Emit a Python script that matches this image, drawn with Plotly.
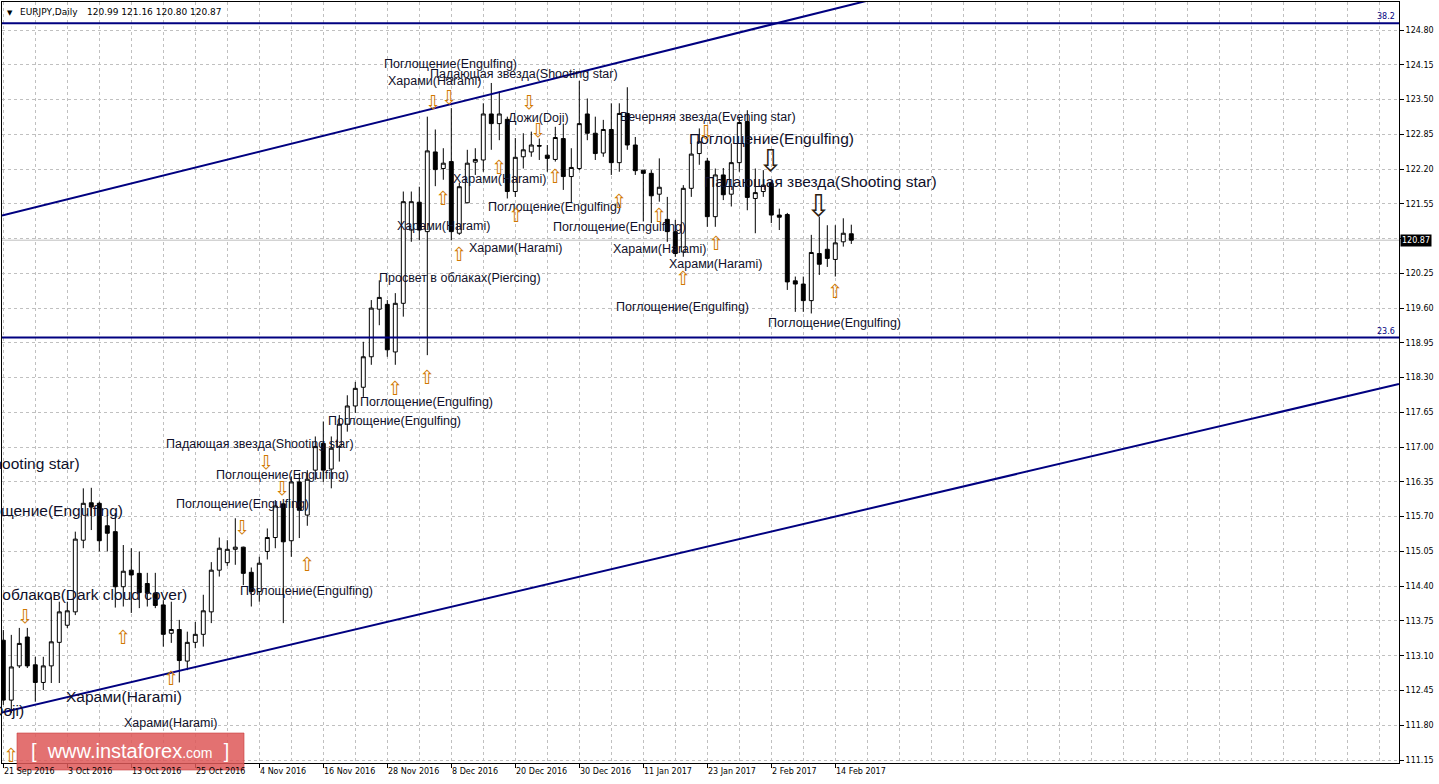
import plotly.graph_objects as go

# ---------------- data ----------------
bar_index = list(range(107))
open_ = [113.39, 112.27, 112.91, 113.45, 112.93, 112.60, 112.91, 113.35, 113.67, 113.92,
         115.26, 115.96, 115.95, 115.53, 115.42, 114.39, 114.70, 114.64, 114.45, 114.27,
         114.05, 113.52, 113.59, 113.00, 113.35, 113.50, 113.92, 114.70, 114.84, 115.09,
         115.13, 114.66, 114.30, 115.05, 115.31, 115.94, 115.25, 116.35, 115.73, 116.57,
         117.07, 116.59, 117.01, 117.43, 117.77, 118.12, 118.69, 119.58, 119.67, 118.78,
         119.69, 121.06, 121.58, 121.03, 122.52, 122.21, 122.34, 121.00, 121.57, 122.33,
         122.37, 123.23, 123.05, 123.13, 121.78, 122.43, 122.52, 122.64, 122.46, 122.38,
         122.77, 122.06, 122.21, 123.23, 122.87, 122.50, 122.94, 122.32, 123.24, 122.65,
         122.18, 122.12, 121.73, 121.26, 121.03, 120.65, 121.84, 122.49, 122.35, 121.31,
         122.09, 121.73, 122.32, 123.09, 121.65, 121.78, 121.93, 121.34, 121.35, 120.11,
         120.05, 119.74, 120.62, 120.70, 120.51, 120.84, 120.99]
high = [113.58, 113.49, 113.62, 113.62, 113.08, 113.08, 114.20, 114.11, 114.11, 115.42,
        116.23, 116.24, 115.98, 115.73, 115.77, 115.17, 115.11, 115.05, 114.65, 114.65,
        114.14, 114.11, 113.77, 113.55, 113.73, 114.24, 114.85, 115.31, 115.26, 115.67,
        115.14, 114.75, 114.95, 115.48, 116.01, 115.96, 116.45, 116.52, 116.57, 117.20,
        117.48, 117.20, 117.60, 117.97, 118.22, 118.97, 119.75, 120.12, 119.75, 119.88,
        121.78, 121.78, 121.87, 123.18, 122.94, 122.59, 123.34, 121.94, 122.56, 122.59,
        123.43, 123.81, 123.65, 123.18, 122.78, 122.87, 122.90, 122.77, 122.65, 122.99,
        123.05, 122.59, 123.85, 123.52, 123.18, 123.12, 123.43, 123.43, 123.73, 122.80,
        122.18, 122.18, 122.40, 121.68, 121.25, 121.90, 122.68, 122.96, 122.41, 122.21,
        122.22, 122.68, 123.15, 123.30, 122.21, 122.18, 121.99, 121.46, 121.38, 120.19,
        120.19, 120.97, 121.31, 121.15, 121.15, 121.28, 121.16]
low = [112.18, 112.03, 112.87, 112.87, 112.24, 112.46, 112.59, 112.59, 113.62, 113.86,
       115.11, 115.45, 115.05, 115.05, 114.00, 114.02, 113.90, 113.99, 114.02, 113.99,
       113.27, 113.34, 112.60, 112.83, 113.24, 113.27, 113.71, 114.58, 114.78, 114.80,
       114.42, 114.02, 114.11, 114.90, 115.11, 113.71, 114.95, 115.30, 115.53, 116.39,
       116.35, 116.23, 116.73, 117.29, 117.64, 117.94, 118.54, 119.28, 118.69, 118.54,
       119.44, 120.84, 120.87, 118.72, 121.88, 122.00, 120.87, 120.97, 121.56, 122.09,
       122.15, 122.56, 122.74, 121.65, 121.68, 122.21, 122.43, 122.37, 122.15, 122.34,
       121.81, 121.56, 122.18, 122.74, 122.37, 122.43, 122.09, 122.15, 122.56, 122.09,
       121.22, 121.19, 121.59, 120.84, 120.56, 120.56, 121.68, 122.28, 121.12, 121.12,
       121.62, 121.50, 122.15, 121.43, 121.00, 121.68, 121.19, 121.06, 119.94, 119.53,
       119.53, 119.50, 120.22, 120.37, 120.19, 120.75, 120.80]
close = [112.27, 112.89, 113.33, 112.91, 112.60, 112.91, 113.36, 113.92, 113.94, 115.28,
         115.95, 115.88, 115.25, 115.39, 114.39, 114.68, 114.61, 114.28, 114.27, 114.04,
         113.50, 113.59, 113.01, 113.35, 113.50, 113.94, 114.70, 115.11, 115.09, 115.13,
         114.64, 114.30, 114.83, 115.31, 115.90, 115.23, 116.35, 115.82, 116.40, 117.01,
         116.57, 116.98, 117.43, 117.77, 118.10, 118.69, 119.60, 119.80, 118.82, 119.69,
         121.59, 121.59, 121.06, 122.54, 122.19, 122.31, 121.03, 121.87, 122.31, 122.38,
         123.23, 123.05, 123.23, 121.78, 122.42, 122.56, 122.65, 122.63, 122.40, 122.79,
         122.06, 122.23, 123.05, 122.87, 122.49, 122.94, 122.32, 123.24, 122.65, 122.17,
         122.12, 121.70, 121.86, 121.03, 120.62, 121.84, 122.48, 122.71, 121.31, 122.09,
         121.72, 122.32, 123.07, 121.67, 121.76, 121.90, 121.34, 121.30, 120.09, 120.05,
         119.74, 120.64, 120.42, 120.53, 120.82, 121.00, 120.87]

date_labels = ["21 Sep 2016", "3 Oct 2016", "13 Oct 2016", "25 Oct 2016", "4 Nov 2016",
               "16 Nov 2016", "28 Nov 2016", "8 Dec 2016", "20 Dec 2016", "30 Dec 2016",
               "11 Jan 2017", "23 Jan 2017", "2 Feb 2017", "14 Feb 2017"]
date_label_bars = [0, 8, 16, 24, 32, 40, 48, 56, 64, 72, 80, 88, 96, 104]

price_ticks = [111.15, 111.80, 112.45, 113.10, 113.75, 114.40, 115.05, 115.70, 116.35,
               117.00, 117.65, 118.30, 118.95, 119.60, 120.25, 120.90, 121.55, 122.20,
               122.85, 123.50, 124.15, 124.80]
price_tick_text = ["111.15", "111.80", "112.45", "113.10", "113.75", "114.40", "115.05",
                   "115.70", "116.35", "117.00", "117.65", "118.30", "118.95", "119.60",
                   "120.25", "", "121.55", "122.20", "122.85", "123.50", "124.15", "124.80"]

last_price = 120.87
level_prices = [124.925, 119.05]
level_names = ["38.2", "23.6"]

upper_trend_x = [-0.16, 112.09]
upper_trend_y = [121.33, 125.50]
lower_trend_x = [-0.41, 174.46]
lower_trend_y = [112.03, 118.18]

# pattern labels: text, bar, price, font size, anchor
pattern_labels = [
    ("Падающая звезда(Shooting star)", 9.84, 116.70, 15.5, "right"),
    ("Поглощение(Engulfing)", 15.21, 115.82, 15.5, "right"),
    ("Завеса из темных облаков(Dark cloud cover)", 23.21, 114.25, 15.5, "right"),
    ("Дожи(Doji)", 2.84, 112.07, 15.5, "right"),
    ("Харами(Harami)", 15.03, 112.33, 15.5, "center"),
    ("Поглощение(Engulfing)", 96.03, 122.78, 15.5, "center"),
    ("Падающая звезда(Shooting star)", 102.09, 121.96, 15.5, "center"),
    ("Харами(Harami)", 20.96, 111.84, 12.5, "center"),
    ("Поглощение(Engulfing)", 55.9, 124.164, 12.5, "center"),
    ("Харами(Harami)", 53.96, 123.856, 12.5, "center"),
    ("Падающая звезда(Shooting star)", 65.03, 123.977, 12.5, "center"),
    ("Дожи(Doji)", 66.96, 123.164, 12.5, "center"),
    ("Вечерняя звезда(Evening star)", 88.03, 123.183, 12.5, "center"),
    ("Харами(Harami)", 62.03, 122.014, 12.5, "center"),
    ("Поглощение(Engulfing)", 68.96, 121.490, 12.5, "center"),
    ("Поглощение(Engulfing)", 77.03, 121.116, 12.5, "center"),
    ("Харами(Harami)", 55.03, 121.135, 12.5, "center"),
    ("Харами(Harami)", 64.03, 120.724, 12.5, "center"),
    ("Харами(Harami)", 82.03, 120.705, 12.5, "center"),
    ("Харами(Harami)", 89.03, 120.424, 12.5, "center"),
    ("Просвет в облаках(Piercing)", 57.03, 120.163, 12.5, "center"),
    ("Поглощение(Engulfing)", 84.96, 119.630, 12.5, "center"),
    ("Поглощение(Engulfing)", 103.96, 119.330, 12.5, "center"),
    ("Поглощение(Engulfing)", 52.96, 117.844, 12.5, "center"),
    ("Поглощение(Engulfing)", 48.96, 117.489, 12.5, "center"),
    ("Падающая звезда(Shooting star)", 32.03, 117.059, 12.5, "center"),
    ("Поглощение(Engulfing)", 34.96, 116.479, 12.5, "center"),
    ("Поглощение(Engulfing)", 29.96, 115.937, 12.5, "center"),
    ("Поглощение(Engulfing)", 37.96, 114.310, 12.5, "center"),
]

down_arrow_bars = [53.71, 55.71, 65.71, 66.80, 2.71, 32.80, 34.80, 29.80, 87.84]
down_arrow_prices = [123.459, 123.553, 123.459, 122.930, 113.842, 116.728, 116.230, 115.516, 122.898]
big_down_arrow_bars = [95.84, 101.88]
big_down_arrow_prices = [122.369, 121.528]
up_arrow_bars = [0.96, 15.0, 20.96, 38.0, 48.96, 53.0, 54.96, 56.96, 61.93, 64.03,
                 68.96, 76.96, 81.96, 84.96, 89.03, 103.96]
up_arrow_prices = [111.244, 113.455, 112.688, 114.815, 118.100, 118.306, 121.653, 120.611,
                   122.238, 121.341, 122.070, 121.602, 121.341, 120.157, 120.823, 119.920]

# ---------------- figure ----------------
AX_FONT = "DejaVu Sans"
LBL_FONT = "Liberation Sans, Arial, sans-serif"
NAVY = "#000080"
GRID = "#c0c0c0"

fig = go.Figure()

fig.add_trace(go.Candlestick(
    x=bar_index, open=open_, high=high, low=low, close=close,
    increasing=dict(fillcolor="white", line=dict(color="black", width=1)),
    decreasing=dict(fillcolor="black", line=dict(color="black", width=1)),
    whiskerwidth=0, hoverinfo="skip", showlegend=False,
))

fig.add_trace(go.Scatter(x=upper_trend_x, y=upper_trend_y, mode="lines",
                         line=dict(color=NAVY, width=2), hoverinfo="skip", showlegend=False))
fig.add_trace(go.Scatter(x=lower_trend_x, y=lower_trend_y, mode="lines",
                         line=dict(color=NAVY, width=2), hoverinfo="skip", showlegend=False))

shapes = []
shapes.append(dict(type="line", xref="paper", x0=0, x1=1, yref="y", y0=last_price, y1=last_price,
                   line=dict(color="#c0c0c0", width=1), layer="below"))
for lp in level_prices:
    shapes.append(dict(type="line", xref="paper", x0=0, x1=1, yref="y", y0=lp, y1=lp,
                       line=dict(color=NAVY, width=2)))
# watermark box
shapes.append(dict(type="rect", xref="paper", yref="paper",
                   x0=(17 - 2) / 1397, x1=(244 - 2) / 1397,
                   y0=(763 - 770) / 761, y1=(763 - 733) / 761,
                   fillcolor="rgba(222,88,88,0.85)", line=dict(color="rgba(200,60,60,0.6)", width=1)))

annotations = []
for txt, bx, py, size, anch in pattern_labels:
    annotations.append(dict(x=bx, y=py, xref="x", yref="y", text=txt, showarrow=False,
                            xanchor=anch, yanchor="middle",
                            font=dict(family=LBL_FONT, size=size, color="#10102a")))
for bx, py in zip(down_arrow_bars, down_arrow_prices):
    annotations.append(dict(x=bx, y=py, xref="x", yref="y", text="⇩", showarrow=False,
                            xanchor="center", yanchor="middle",
                            font=dict(family=AX_FONT, size=19, color="#d07800")))
for bx, py in zip(big_down_arrow_bars, big_down_arrow_prices):
    annotations.append(dict(x=bx, y=py, xref="x", yref="y", text="⇩", showarrow=False,
                            xanchor="center", yanchor="middle",
                            font=dict(family=AX_FONT, size=30, color="#2a2010")))
for bx, py in zip(up_arrow_bars, up_arrow_prices):
    annotations.append(dict(x=bx, y=py, xref="x", yref="y", text="⇧", showarrow=False,
                            xanchor="center", yanchor="middle",
                            font=dict(family=AX_FONT, size=19, color="#d07800")))

# date labels (left aligned at the tick as in the source)
for bx, lab in zip(date_label_bars, date_labels):
    annotations.append(dict(x=bx, y=0, xref="x", yref="paper", text=lab, showarrow=False,
                            xanchor="left", yanchor="top", xshift=-1, yshift=-2,
                            font=dict(family=AX_FONT, size=8, color="black")))

# level names
for lp, nm in zip(level_prices, level_names):
    annotations.append(dict(x=1, y=lp, xref="paper", yref="y", text=nm, showarrow=False,
                            xanchor="right", yanchor="bottom", xshift=-2, yshift=0,
                            font=dict(family=AX_FONT, size=8, color=NAVY)))

# current price box
annotations.append(dict(x=1, y=last_price, xref="paper", yref="y", text="120.87",
                        showarrow=False, xanchor="left", yanchor="middle", xshift=1,
                        bgcolor="black", borderpad=1,
                        font=dict(family=AX_FONT, size=8, color="white")))

# header
annotations.append(dict(x=0, y=1, xref="paper", yref="paper", text="▼", showarrow=False,
                        xanchor="left", yanchor="top", xshift=3, yshift=-5,
                        font=dict(family=AX_FONT, size=7, color="black")))
annotations.append(dict(x=0, y=1, xref="paper", yref="paper", text="EURJPY,Daily",
                        showarrow=False, xanchor="left", yanchor="top", xshift=16, yshift=-3,
                        font=dict(family=AX_FONT, size=9, color="black")))
annotations.append(dict(x=0, y=1, xref="paper", yref="paper",
                        text="120.99 121.16 120.80 120.87",
                        showarrow=False, xanchor="left", yanchor="top", xshift=83, yshift=-3,
                        font=dict(family=AX_FONT, size=9, color="black")))

# watermark text
annotations.append(dict(x=(130 - 2) / 1397, y=(763 - 751) / 761, xref="paper", yref="paper",
                        text="[  www.instaforex<span style='font-size:14px'>.com</span>  ]",
                        showarrow=False, xanchor="center", yanchor="middle",
                        font=dict(family=LBL_FONT, size=20, color="white")))

minor_grid = [v for v in range(0, 176, 4)]

fig.update_layout(
    width=1439, height=784,
    margin=dict(l=2, r=40, t=2, b=21),
    paper_bgcolor="white", plot_bgcolor="white",
    showlegend=False, hovermode=False,
    shapes=shapes, annotations=annotations,
    xaxis=dict(
        range=[-0.1625, 174.4625], tickmode="array", tickvals=date_label_bars,
        showticklabels=False, ticks="outside", ticklen=4, tickcolor="black",
        showgrid=True, gridcolor=GRID, griddash="3px,3px", gridwidth=1,
        showline=True, linecolor="black", linewidth=1, mirror=True, zeroline=False,
        rangeslider=dict(visible=False),
        minor=dict(tickmode="array", tickvals=minor_grid, showgrid=True,
                   gridcolor=GRID, griddash="3px,3px", gridwidth=1, ticks=""),
    ),
    yaxis=dict(
        side="right", range=[111.094, 125.324], tickmode="array",
        tickvals=price_ticks, ticktext=price_tick_text,
        ticks="outside", ticklen=4, tickcolor="black",
        tickfont=dict(family=AX_FONT, size=8, color="black"),
        showgrid=True, gridcolor=GRID, griddash="3px,3px", gridwidth=1,
        showline=True, linecolor="black", linewidth=1, mirror=True, zeroline=False,
    ),
)

fig.write_html("out.html", config={"displayModeBar": False},
               post_script="document.body.style.margin='0';")
